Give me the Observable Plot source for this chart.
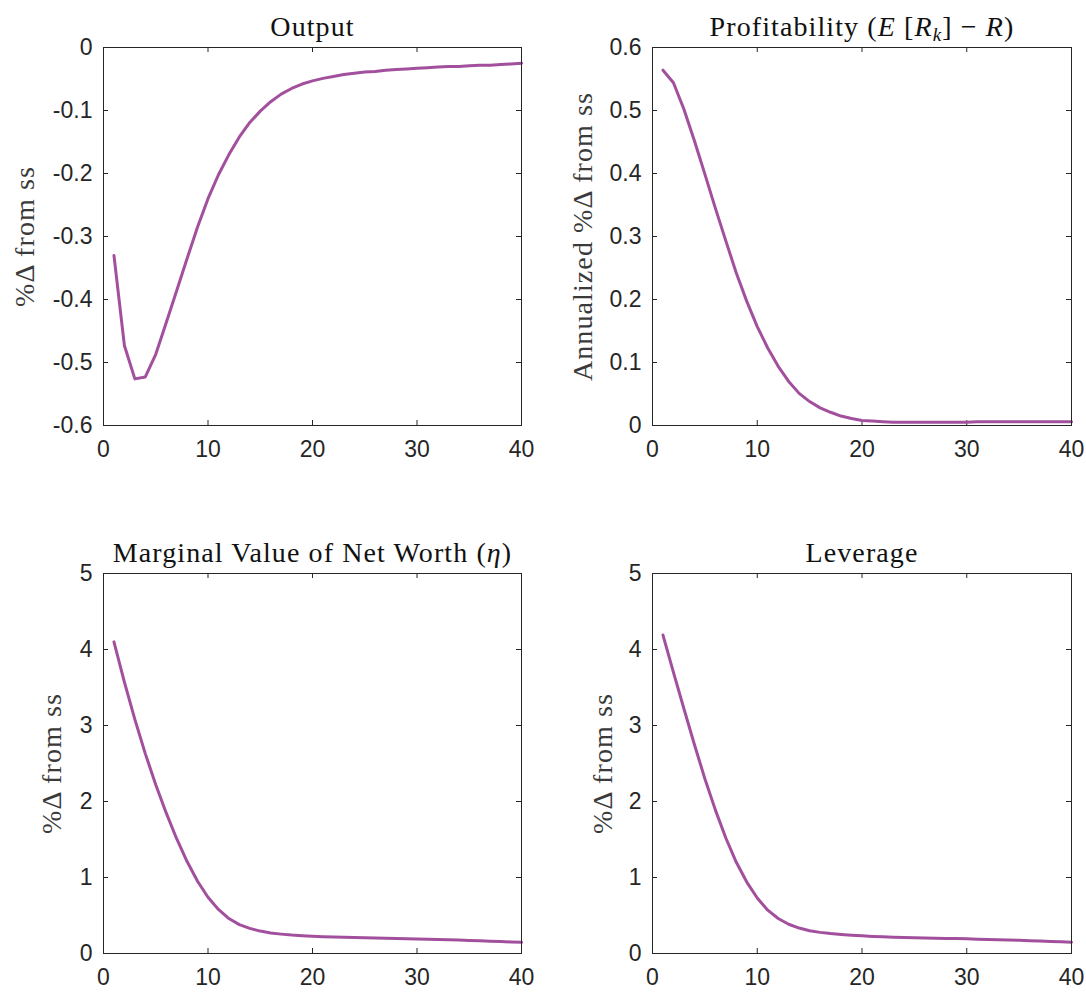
<!DOCTYPE html>
<html><head><meta charset="utf-8">
<script src="https://cdn.jsdelivr.net/npm/d3@7"></script>
<script src="https://cdn.jsdelivr.net/npm/@observablehq/plot@0.6"></script>
<style>
body{margin:0;background:#fff;}
#root{position:relative;width:1086px;height:992px;background:#fff;}
#root svg{position:absolute;}
</style></head><body><div id="root"></div>
<script>
// ---- data ----
const periods = [1,2,3,4,5,6,7,8,9,10,11,12,13,14,15,16,17,18,19,20,21,22,23,24,25,26,27,28,29,30,31,32,33,34,35,36,37,38,39,40];
const output = [-0.330,-0.473,-0.526,-0.523,-0.487,-0.437,-0.386,-0.335,-0.285,-0.240,-0.202,-0.170,-0.142,-0.119,-0.101,-0.086,-0.074,-0.065,-0.058,-0.053,-0.049,-0.046,-0.043,-0.041,-0.039,-0.038,-0.036,-0.035,-0.034,-0.033,-0.032,-0.031,-0.030,-0.030,-0.029,-0.028,-0.028,-0.027,-0.026,-0.025];
const profitability = [0.564,0.544,0.502,0.452,0.399,0.345,0.293,0.242,0.197,0.157,0.123,0.094,0.070,0.051,0.038,0.028,0.021,0.015,0.011,0.008,0.007,0.006,0.005,0.005,0.005,0.005,0.005,0.005,0.005,0.005,0.006,0.006,0.006,0.006,0.006,0.006,0.006,0.006,0.006,0.006];
const netWorth = [4.10,3.57,3.08,2.63,2.22,1.85,1.51,1.21,0.95,0.74,0.58,0.46,0.38,0.33,0.295,0.27,0.255,0.243,0.235,0.228,0.222,0.217,0.213,0.210,0.207,0.204,0.201,0.198,0.195,0.192,0.188,0.184,0.180,0.176,0.172,0.167,0.162,0.157,0.152,0.147];
const leverage = [4.19,3.70,3.22,2.75,2.30,1.89,1.52,1.20,0.94,0.73,0.57,0.46,0.385,0.335,0.300,0.278,0.262,0.250,0.240,0.232,0.225,0.219,0.215,0.211,0.208,0.205,0.202,0.199,0.196,0.193,0.189,0.185,0.181,0.177,0.173,0.168,0.163,0.158,0.153,0.148];

const xTicks = [0,10,20,30,40];
const outputTicks = [-0.6,-0.5,-0.4,-0.3,-0.2,-0.1,0];
const profitTicks = [0,0.1,0.2,0.3,0.4,0.5,0.6];
const levelTicks = [0,1,2,3,4,5];

const titles = ["Output", "Profitability (E [Rk] − R)", "Marginal Value of Net Worth (η)", "Leverage"];
const yLabels = ["%Δ from ss", "Annualized %Δ from ss", "%Δ from ss", "%Δ from ss"];

// ---- layout (not data) ----
const LINE = "#A2509E";
const INK = "#262626";
const geoms = [
  {left:0,   top:0,   W:543, H:496, ml:103, mr:22, mt:47, mb:71, labelDx:-78},
  {left:543, top:0,   W:543, H:496, ml:109, mr:15, mt:47, mb:71, labelDx:-69},
  {left:0,   top:496, W:543, H:496, ml:103, mr:22, mt:77, mb:39, labelDx:-51},
  {left:543, top:496, W:543, H:496, ml:109, mr:15, mt:77, mb:39, labelDx:-49}
];
const series = [output, profitability, netWorth, leverage];
const domains = [[-0.6,0],[0,0.6],[0,5],[0,5]];
const yTickSets = [outputTicks, profitTicks, levelTicks, levelTicks];

const root = document.getElementById("root");

series.forEach((vals, i) => {
  const g = geoms[i];
  const innerW = g.W - g.ml - g.mr;
  const innerH = g.H - g.mt - g.mb;
  const data = periods.map((t, j) => ({t, v: vals[j]}));
  const yT = yTickSets[i];
  const svg = Plot.plot({
    width: g.W, height: g.H,
    marginLeft: g.ml, marginRight: g.mr, marginTop: g.mt, marginBottom: g.mb,
    style: {fontFamily: "'Liberation Sans', Arial, sans-serif", fontSize: "23px", color: INK, background: "white", overflow: "visible"},
    x: {domain: [0, 40]},
    y: {domain: domains[i]},
    marks: [
      Plot.axisX({ticks: xTicks, tickSize: 0, tickPadding: 15, label: null, tickFormat: d => String(d), fill: INK}),
      Plot.axisY({ticks: yT, tickSize: 0, tickPadding: 11, label: null, tickFormat: d => String(d), fill: INK}),
      Plot.tickX(xTicks, {x: d => d, insetTop: innerH - 5, stroke: INK}),
      Plot.tickX(xTicks, {x: d => d, insetBottom: innerH - 5, stroke: INK}),
      Plot.tickY(yT, {y: d => d, insetLeft: innerW - 5, stroke: INK}),
      Plot.tickY(yT, {y: d => d, insetRight: innerW - 5, stroke: INK}),
      Plot.line(data, {x: "t", y: "v", stroke: LINE, strokeWidth: 3, strokeLinejoin: "round"}),
      Plot.frame({stroke: INK, strokeWidth: 1}),
      Plot.text([yLabels[i]], {frameAnchor: "left", textAnchor: "middle", text: d => d, rotate: -90, dx: g.labelDx, fontFamily: "'Liberation Serif', serif", fontSize: 28, fill: "#3a3a3a"}),
      Plot.text([titles[i]], {frameAnchor: "top", textAnchor: "middle", text: d => d, lineAnchor: "bottom", dy: -12, fontFamily: "'Liberation Serif', serif", fontSize: 28, fill: "#111"})
    ]
  });
  svg.style.left = g.left + "px";
  svg.style.top = g.top + "px";
  root.appendChild(svg);

  d3.select(svg).selectAll("g[font-family*='Serif']").attr("letter-spacing", "1.1px");

  // rich formatting of math parts in titles
  d3.select(svg).selectAll("text").each(function() {
    const el = d3.select(this);
    const txt = this.textContent;
    if (txt === titles[1]) {
      el.text(null);
      const parts = [["Profitability (", "normal", 0, null], ["E", "italic", 0, null], [" [", "normal", 0, null], ["R", "italic", 0, null], ["k", "italic", 5, 19], ["] − ", "normal", -5, null], ["R", "italic", 0, null], [")", "normal", 0, null]];
      parts.forEach(([s, st, dy, fs]) => {
        const ts = el.append("tspan").text(s).attr("font-style", st);
        if (dy) ts.attr("dy", dy);
        if (fs) ts.attr("font-size", fs);
      });
    } else if (txt === titles[2]) {
      el.text(null);
      el.append("tspan").text("Marginal Value of Net Worth (");
      el.append("tspan").text("η").attr("font-style", "italic");
      el.append("tspan").text(")");
    }
  });
});
</script>
</body></html>
